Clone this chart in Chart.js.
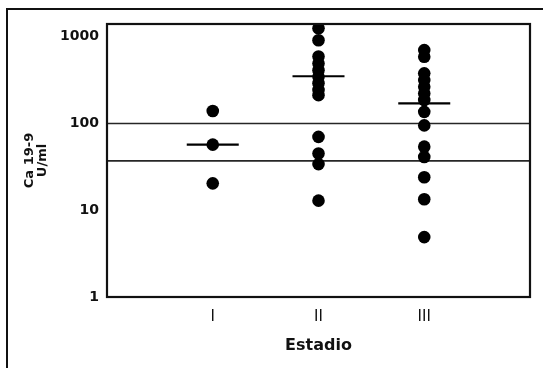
<!DOCTYPE html>
<html>
<head>
<meta charset="utf-8">
<script src="https://cdn.jsdelivr.net/npm/chart.js@4.4.0/dist/chart.umd.min.js"></script>
<style>
    html, body { margin: 0; padding: 0; background: #fff; }
    #wrap { width: 543px; height: 368px; position: relative; }
</style>
</head>
<body>
<div id="wrap"><canvas id="grafico" width="543" height="368"></canvas></div>
<script>
// Dados do gráfico (Ca 19-9 por estadio)
const estadios = ['I', 'II', 'III'];
const valoresI = [139, 57, 20.4];
const valoresII = [1250, 910, 590, 490, 410, 345, 290, 243, 212, 70, 45, 34, 12.9];
const valoresIII = [700, 587, 378, 316, 265, 222, 186, 136, 95, 54, 41, 24, 13.4, 4.9];
const medianas = [57, 350, 170];
const limites = [100, 37];
const ticksY = [1, 10, 100, 1000];

const eixoXMin = 0;
const eixoXMax = 4;

// Monta os pontos a partir das listas
const grupos = [valoresI, valoresII, valoresIII];
const pontos = [];
grupos.forEach(function (lista, i) {
    lista.forEach(function (v) {
        pontos.push({ x: i + 1, y: v });
    });
});
const pontosMediana = medianas.map(function (m, i) { return { x: i + 1, y: m }; });

const linhasLimite = limites.map(function (lim) {
    return {
        data: [{ x: eixoXMin, y: lim }, { x: eixoXMax, y: lim }],
        showLine: true,
        borderColor: '#262626',
        borderWidth: 1.6,
        pointRadius: 0,
        order: 3
    };
});

// Plugin para a moldura externa e a caixa do gráfico
const moldura = {
    id: 'moldura',
    beforeDraw(chart) {
        const ctx = chart.ctx;
        ctx.save();
        ctx.fillStyle = '#fff';
        ctx.fillRect(0, 0, chart.width, chart.height);
        ctx.strokeStyle = '#111';
        ctx.lineWidth = 2;
        ctx.beginPath();
        ctx.moveTo(7, chart.height + 2);
        ctx.lineTo(7, 9);
        ctx.lineTo(chart.width + 2, 9);
        ctx.stroke();
        ctx.restore();
    },
    afterDatasetsDraw(chart) {
        const a = chart.chartArea;
        const ctx = chart.ctx;
        ctx.save();
        ctx.strokeStyle = '#111';
        ctx.lineWidth = 2.2;
        ctx.strokeRect(a.left, a.top, a.right - a.left, a.bottom - a.top);
        ctx.restore();
    }
};

const ctx = document.getElementById('grafico').getContext('2d');
const chart = new Chart(ctx, {
    type: 'scatter',
    data: {
        datasets: [
            {
                data: pontos,
                backgroundColor: '#000',
                borderWidth: 0,
                pointRadius: 6.3,
                order: 1
            },
            {
                data: pontosMediana,
                pointStyle: 'line',
                pointRadius: 26,
                borderColor: '#000',
                borderWidth: 2.2,
                order: 2
            }
        ].concat(linhasLimite)
    },
    options: {
        responsive: false,
        animation: false,
        devicePixelRatio: 1,
        layout: { autoPadding: false, padding: { top: 24, right: 13, left: 0, bottom: 0 } },
        plugins: {
            legend: { display: false },
            tooltip: { enabled: false }
        },
        scales: {
            x: {
                type: 'linear',
                position: 'bottom',
                min: eixoXMin,
                max: eixoXMax,
                grid: { display: false },
                border: { display: false },
                afterBuildTicks: function (scale) {
                    scale.ticks = estadios.map(function (e, i) { return { value: i + 1 }; });
                },
                afterFit: function (scale) {
                    scale.height = 71;
                },
                ticks: {
                    color: '#111',
                    padding: 3,
                    font: { family: 'DejaVu Sans', size: 15 },
                    callback: function (v) { return estadios[v - 1] || ''; }
                },
                title: {
                    display: true,
                    text: 'Estadio',
                    color: '#111',
                    font: { family: 'DejaVu Sans', size: 16, weight: 'bold' },
                    padding: { top: 0, bottom: 13 }
                }
            },
            y: {
                type: 'logarithmic',
                min: 1,
                max: 1400,
                grid: { display: false },
                border: { display: false },
                afterBuildTicks: function (scale) {
                    scale.ticks = ticksY.map(function (v) { return { value: v }; });
                },
                afterFit: function (scale) {
                    scale.width = 107;
                },
                ticks: {
                    color: '#111',
                    padding: 0,
                    font: { family: 'DejaVu Sans', size: 14, weight: 'bold' },
                    callback: function (v) { return String(v); }
                },
                title: {
                    display: true,
                    text: ['Ca 19-9', 'U/ml'],
                    color: '#111',
                    font: { family: 'DejaVu Sans', size: 13, weight: 'bold', lineHeight: 1 },
                    padding: { top: 23, bottom: 0 }
                }
            }
        }
    },
    plugins: [moldura]
});
</script>
</body>
</html>
